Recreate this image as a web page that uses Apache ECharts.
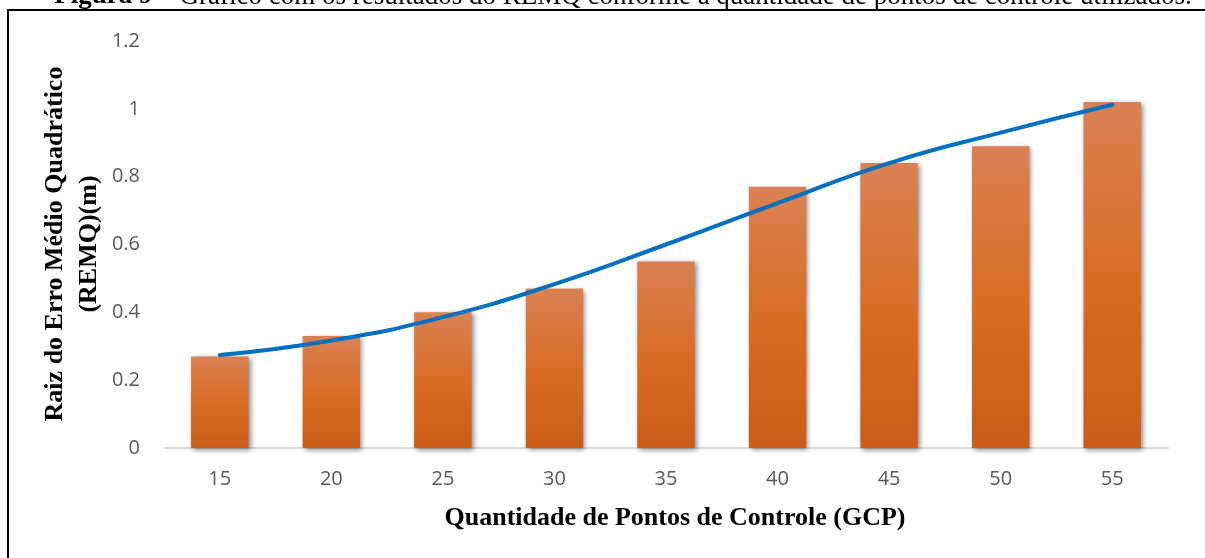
<!DOCTYPE html>
<html>
<head>
<meta charset="utf-8">
<script src="https://cdn.jsdelivr.net/npm/echarts@6/dist/echarts.min.js"></script>
<style>
html,body{margin:0;padding:0;background:#fff;}
#chart{width:1205px;height:558px;}
</style>
</head>
<body>
<div id="chart"></div>
<script>
const categories = ['15','20','25','30','35','40','45','50','55'];
const remqValues = [0.27, 0.33, 0.40, 0.47, 0.55, 0.77, 0.84, 0.89, 1.02];
const trendValues = [0.274, 0.317, 0.386, 0.483, 0.600, 0.722, 0.840, 0.930, 1.012];
const yTicks = { min: 0, max: 1.2, interval: 0.2 };

const chart = echarts.init(document.getElementById('chart'), null, {renderer:'canvas'});
const option = {
  backgroundColor: '#ffffff',
  animation: false,
  grid: { left: 164, right: 37, top: 41, bottom: 110 },
  xAxis: {
    type: 'category',
    data: categories,
    axisLine: { lineStyle: { color: '#D9D9D9', width: 2 } },
    axisTick: { show: false },
    axisLabel: { color: '#595959', fontSize: 20, fontFamily: 'Open Sans', margin: 21 }
  },
  yAxis: {
    type: 'value',
    min: yTicks.min, max: yTicks.max, interval: yTicks.interval,
    axisLine: { show: false },
    axisTick: { show: false },
    splitLine: { show: false },
    axisLabel: { color: '#595959', fontSize: 20, fontFamily: 'Open Sans', margin: 24 }
  },
  series: [
    {
      type: 'bar',
      data: remqValues,
      barWidth: '51.5%',
      itemStyle: {
        color: new echarts.graphic.LinearGradient(0,0,0,1,[
          {offset:0, color:'#DA8154'},
          {offset:0.55, color:'#D86B22'},
          {offset:1, color:'#C95C18'}
        ]),
        shadowColor: 'rgba(0,0,0,0.45)',
        shadowBlur: 5,
        shadowOffsetX: 2,
        shadowOffsetY: 2
      }
    },
    {
      type: 'line',
      data: trendValues,
      smooth: true,
      symbol: 'none',
      lineStyle: { color: '#0070C0', width: 4, cap: 'round' },
      z: 5
    }
  ],
  graphic: [
    {
      type: 'polyline',
      shape: { points: [[8, 700], [8, 10], [1400, 10]] },
      style: { fill: 'none', stroke: '#000', lineWidth: 2 },
      silent: true
    },
    {
      type: 'text',
      x: 623, y: 10,
      style: {
        text: '{b|Figura 9} – Gráfico com os resultados do REMQ conforme a quantidade de pontos de controle utilizados.',
        rich: { b: { fontWeight: 'bold', fontFamily: 'Liberation Serif', fontSize: 27, fill: '#000' } },
        fontFamily: 'Liberation Serif', fontSize: 27, fill: '#000',
        textAlign: 'center', textVerticalAlign: 'bottom'
      }
    },
    {
      type: 'text',
      x: 72, y: 244,
      rotation: Math.PI / 2,
      style: {
        text: 'Raiz do Erro Médio Quadrático\n(REMQ)(m)',
        fontFamily: 'Liberation Serif', fontWeight: 'bold', fontSize: 26, lineHeight: 34,
        fill: '#000', textAlign: 'center', textVerticalAlign: 'middle'
      }
    },
    {
      type: 'text',
      x: 675, y: 518,
      style: {
        text: 'Quantidade de Pontos de Controle (GCP)',
        fontFamily: 'Liberation Serif', fontWeight: 'bold', fontSize: 26,
        fill: '#000', textAlign: 'center', textVerticalAlign: 'middle'
      }
    }
  ]
};
chart.setOption(option);
</script>
</body>
</html>
